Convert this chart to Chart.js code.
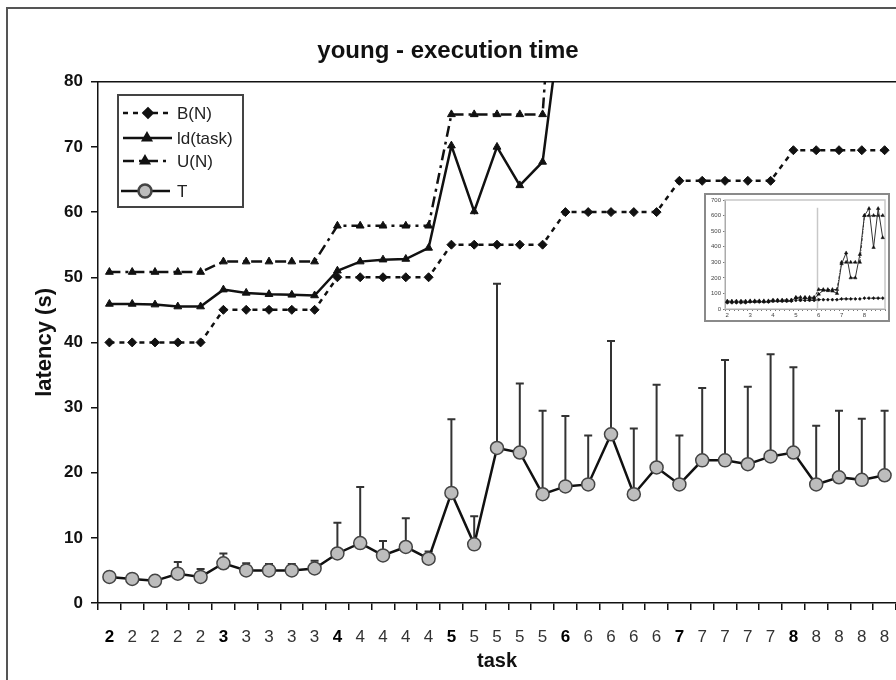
<!DOCTYPE html>
<html>
<head>
<meta charset="utf-8">
<script src="https://cdn.jsdelivr.net/npm/chart.js@4.4.1/dist/chart.umd.min.js"></script>
<style>
  html, body { margin: 0; padding: 0; background: #fff; }
  #wrap { position: relative; width: 896px; height: 680px; overflow: hidden; }
  #main { position: absolute; left: 0; top: 0; }
  #inset { position: absolute; left: 704px; top: 193px; }
</style>
</head>
<body>
<div id="wrap">
  <canvas id="main" width="896" height="680"></canvas>
  <canvas id="inset" width="186" height="129"></canvas>
</div>
<script>
const categories = [
  "2", "2", "2", "2", "2", "3", "3", "3", "3", "3", "4", "4", "4", "4", "4", "5", "5", "5",
  "5", "5", "6", "6", "6", "6", "6", "7", "7", "7", "7", "7", "8", "8", "8", "8", "8",
];
const yTicks = [0, 10, 20, 30, 40, 50, 60, 70, 80];
const insetTicks = [0, 100, 200, 300, 400, 500, 600, 700];

const bN = [
  40, 40, 40, 40, 40, 45, 45, 45, 45, 45, 50, 50, 50, 50, 50, 55, 55, 55,
  55, 55, 60, 60, 60, 60, 60, 64.8, 64.8, 64.8, 64.8, 64.8, 69.5, 69.5, 69.5, 69.5, 69.5,
];
const ldTask = [
  45.9, 45.9, 45.8, 45.5, 45.5, 48.1, 47.6, 47.4, 47.3, 47.2, 51.0, 52.4, 52.7, 52.8, 54.5, 70.2, 60.1, 70.0,
  64.1, 67.7, 95, 120, 118, 115, 100, 290, 360, 200, 200, 350, 600, 645, 395, 645, 458,
];
const uN = [
  50.8, 50.8, 50.8, 50.8, 50.8, 52.4, 52.4, 52.4, 52.4, 52.4, 57.9, 57.9, 57.9, 57.9, 57.9, 75, 75, 75,
  75, 75, 125, 125, 125, 125, 125, 300, 300, 300, 300, 300, 600, 600, 600, 600, 600,
];
const tMean = [
  4.0, 3.7, 3.4, 4.5, 4.0, 6.1, 5.0, 5.0, 5.0, 5.3, 7.6, 9.2, 7.3, 8.6, 6.8, 16.9, 9.0, 23.8,
  23.1, 16.7, 17.9, 18.2, 25.9, 16.7, 20.8, 18.2, 21.9, 21.9, 21.3, 22.5, 23.1, 18.2, 19.3, 18.9, 19.6,
];
// upper deviation only, as in the original
const tErr = [
  0.3, 0.3, 0.3, 1.8, 1.2, 1.5, 1.1, 1.0, 1.0, 1.2, 4.7, 8.6, 2.2, 4.4, 1.1, 11.3, 4.3, 25.2,
  10.6, 12.8, 10.8, 7.5, 14.3, 10.1, 12.7, 7.5, 11.1, 15.4, 11.9, 15.7, 13.1, 9.0, 10.2, 9.4, 9.9,
];

const ink = "#111";
const FONT = "Arial, 'Liberation Sans', sans-serif";

const framePlugin = {
  id: "frame",
  beforeDraw(chart) {
    const { ctx, chartArea } = chart;
    ctx.save();
    ctx.strokeStyle = "#555";
    ctx.lineWidth = 2;
    ctx.strokeRect(7, 8, 1000, 1000);
    ctx.strokeStyle = ink;
    ctx.lineWidth = 1.5;
    ctx.beginPath();
    ctx.moveTo(chartArea.left, chartArea.top);
    ctx.lineTo(chartArea.right, chartArea.top);
    ctx.stroke();
    ctx.restore();
  },
};

const errorBarPlugin = {
  id: "errorBars",
  beforeDatasetsDraw(chart) {
    const { ctx, scales } = chart;
    ctx.save();
    ctx.strokeStyle = "#333";
    ctx.lineWidth = 2;
    tMean.forEach((v, i) => {
      const x = scales.x.getPixelForValue(i);
      const y0 = scales.y.getPixelForValue(v);
      const y1 = scales.y.getPixelForValue(v + tErr[i]);
      ctx.beginPath();
      ctx.moveTo(x, y0);
      ctx.lineTo(x, y1);
      ctx.moveTo(x - 4, y1);
      ctx.lineTo(x + 4, y1);
      ctx.stroke();
    });
    ctx.restore();
  },
};

const legendPlugin = {
  id: "boxLegend",
  afterDraw(chart) {
    const { ctx } = chart;
    const rows = [
      { text: "B(N)", y: 113, x0: 123, x1: 172, mx: 148, ds: 0 },
      { text: "ld(task)", y: 138, x0: 123, x1: 172, mx: 147, ds: 1 },
      { text: "U(N)", y: 161, x0: 123, x1: 168, mx: 145, ds: 2 },
      { text: "T", y: 191, x0: 121, x1: 170, mx: 145, ds: 3 },
    ];
    ctx.save();
    ctx.fillStyle = "#fff";
    ctx.fillRect(118, 95, 125, 112);
    ctx.strokeStyle = "#444";
    ctx.lineWidth = 2;
    ctx.strokeRect(118, 95, 125, 112);
    rows.forEach((r) => {
      const d = chart.data.datasets[r.ds];
      ctx.strokeStyle = d.borderColor;
      ctx.lineWidth = d.borderWidth;
      ctx.setLineDash(d.borderDash || []);
      ctx.beginPath();
      ctx.moveTo(r.x0, r.y);
      ctx.lineTo(r.x1, r.y);
      ctx.stroke();
      ctx.setLineDash([]);
      ctx.fillStyle = d.pointBackgroundColor;
      ctx.strokeStyle = d.pointBorderColor;
      Chart.helpers.drawPoint(ctx, {
        pointStyle: d.pointStyle, radius: d.pointRadius, borderWidth: d.pointBorderWidth, rotation: 0,
      }, r.mx, r.y);
      ctx.fillStyle = "#222";
      ctx.font = "17px " + FONT;
      ctx.textBaseline = "middle";
      ctx.fillText(r.text, 177, r.y + 1);
    });
    ctx.restore();
  },
};

new Chart(document.getElementById("main"), {
  type: "line",
  data: {
    labels: categories,
    datasets: [
      {
        label: "B(N)", data: bN, borderColor: ink, borderWidth: 2.5, borderDash: [5, 5],
        pointStyle: "rectRot", pointRadius: 4.5, pointBackgroundColor: ink, pointBorderColor: ink, pointBorderWidth: 1,
      },
      {
        label: "ld(task)", data: ldTask, borderColor: ink, borderWidth: 2.5,
        pointStyle: "triangle", pointRadius: 4.5, pointBackgroundColor: ink, pointBorderColor: ink, pointBorderWidth: 1,
      },
      {
        label: "U(N)", data: uN, borderColor: ink, borderWidth: 2.5, borderDash: [11, 5, 3, 5],
        pointStyle: "triangle", pointRadius: 4.5, pointBackgroundColor: ink, pointBorderColor: ink, pointBorderWidth: 1,
      },
      {
        label: "T", data: tMean, borderColor: ink, borderWidth: 2.5,
        pointStyle: "circle", pointRadius: 6.5, pointBackgroundColor: "#bdbdbd", pointBorderColor: "#444", pointBorderWidth: 1.5,
      },
    ],
  },
  options: {
    responsive: false,
    animation: false,
    devicePixelRatio: 1,
    layout: { autoPadding: false, padding: { left: 0, right: 0, top: 0, bottom: 0 } },
    elements: { line: { tension: 0 } },
    plugins: {
      legend: { display: false },
      tooltip: { enabled: false },
      title: {
        display: true,
        text: "young - execution time",
        color: ink,
        font: { family: FONT, size: 24, weight: "bold" },
        padding: { top: 37, bottom: 16 },
      },
    },
    scales: {
      x: {
        type: "category",
        offset: true,
        grid: { offset: true, drawOnChartArea: false, tickLength: 7, color: ink, lineWidth: 1.5 },
        border: { color: ink, width: 1.5 },
        ticks: {
          autoSkip: false,
          maxRotation: 0,
          padding: 17,
          color: (ctx) => (ctx.index % 5 === 0 ? "#000" : "#333"),
          font: (ctx) => ({ family: FONT, size: 17, weight: ctx.index % 5 === 0 ? "bold" : "normal" }),
        },
        title: {
          display: true,
          text: "task",
          color: ink,
          font: { family: FONT, size: 20, weight: "bold" },
          padding: { top: 0, bottom: 7 },
        },
        afterFit(scale) {
          scale.height = 77;
          scale.paddingLeft = 0;
          scale.paddingRight = 0;
        },
      },
      y: {
        min: 0,
        max: 80,
        afterBuildTicks(scale) { scale.ticks = yTicks.map((v) => ({ value: v })); },
        grid: { drawOnChartArea: false, tickLength: 7, color: ink, lineWidth: 1.5 },
        border: { color: ink, width: 1.5 },
        ticks: { padding: 8, color: ink, font: { family: FONT, size: 17, weight: "bold" } },
        title: {
          display: true,
          text: "latency (s)",
          color: ink,
          font: { family: FONT, size: 22, weight: "bold" },
          padding: { top: 32, bottom: 0 },
        },
        afterFit(scale) { scale.width = 98; },
      },
    },
  },
  plugins: [framePlugin, errorBarPlugin, legendPlugin],
});

const insetPlugin = {
  id: "insetFrame",
  beforeDatasetsDraw(chart) {
    const { ctx, chartArea, scales } = chart;
    ctx.save();
    ctx.strokeStyle = "#c8c8c8";
    ctx.lineWidth = 1.5;
    ctx.strokeRect(chartArea.left, chartArea.top, chartArea.right - chartArea.left, chartArea.bottom - chartArea.top);
    const x6 = Math.round(scales.x.getPixelForValue(20)) - 1.5;
    ctx.beginPath();
    ctx.moveTo(x6, scales.y.getPixelForValue(0));
    ctx.lineTo(x6, scales.y.getPixelForValue(650));
    ctx.stroke();
    ctx.restore();
  },
  afterDraw(chart) {
    const { ctx } = chart;
    ctx.save();
    ctx.strokeStyle = "#8a8a8a";
    ctx.lineWidth = 2;
    ctx.strokeRect(1, 1, 184, 127);
    ctx.restore();
  },
};

const insetStyle = { borderColor: "#333", borderWidth: 1, pointBackgroundColor: "#111", pointBorderColor: "#111", pointBorderWidth: 0.5 };

new Chart(document.getElementById("inset"), {
  type: "line",
  data: {
    labels: categories,
    datasets: [
      { data: bN, ...insetStyle, borderDash: [2, 2], pointStyle: "rectRot", pointRadius: 1.6 },
      { data: ldTask, ...insetStyle, pointStyle: "triangle", pointRadius: 2 },
      { data: uN, ...insetStyle, borderDash: [3, 1.5, 1, 1.5], pointStyle: "triangle", pointRadius: 2 },
    ],
  },
  options: {
    responsive: false,
    animation: false,
    devicePixelRatio: 1,
    layout: { autoPadding: false, padding: { left: 0, right: 5, top: 7, bottom: 0 } },
    elements: { line: { tension: 0 } },
    plugins: { legend: { display: false }, tooltip: { enabled: false }, title: { display: false } },
    scales: {
      x: {
        type: "category",
        offset: true,
        grid: { offset: true, drawOnChartArea: false, tickLength: 2, color: "#555", lineWidth: 0.8 },
        border: { color: "#555", width: 1 },
        ticks: {
          autoSkip: false,
          maxRotation: 0,
          padding: 1,
          color: "#444",
          font: { family: FONT, size: 6 },
          callback: (v, i) => (i % 5 === 0 ? categories[i] : ""),
        },
        afterFit(scale) {
          scale.height = 13;
          scale.paddingLeft = 0;
          scale.paddingRight = 0;
        },
      },
      y: {
        min: 0,
        max: 700,
        afterBuildTicks(scale) { scale.ticks = insetTicks.map((v) => ({ value: v })); },
        grid: { drawOnChartArea: false, tickLength: 2, color: "#555", lineWidth: 0.8 },
        border: { color: "#555", width: 1 },
        ticks: { padding: 2, color: "#444", font: { family: FONT, size: 6 } },
        afterFit(scale) { scale.width = 21; },
      },
    },
  },
  plugins: [insetPlugin],
});
</script>
</body>
</html>
